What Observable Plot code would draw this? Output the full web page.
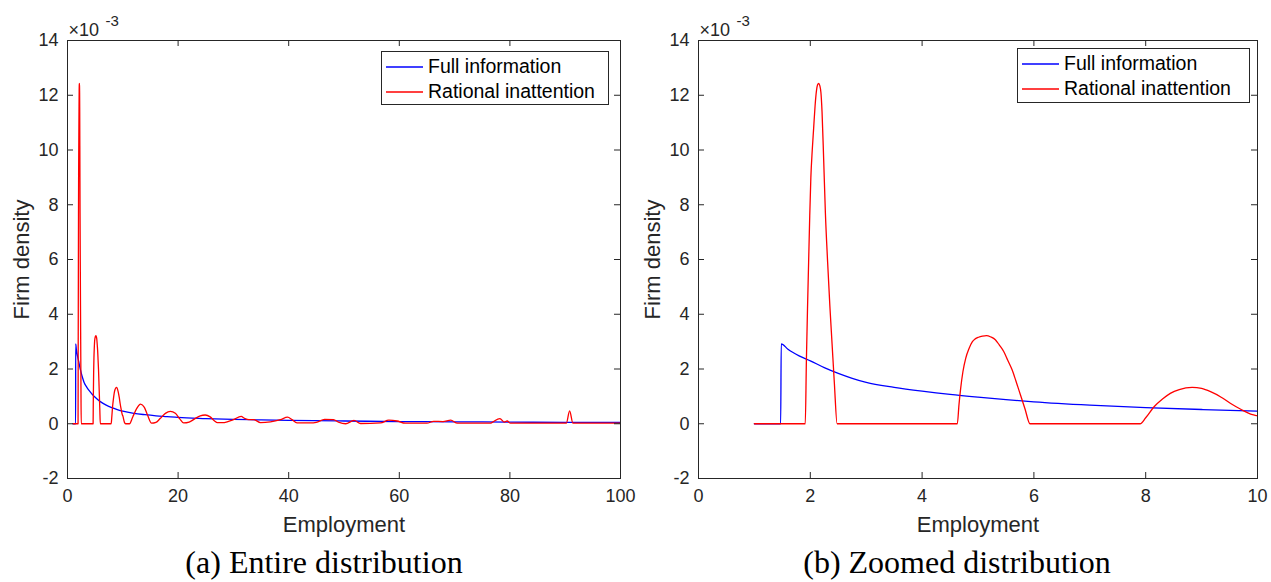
<!DOCTYPE html>
<html><head><meta charset="utf-8">
<script src="https://cdn.jsdelivr.net/npm/d3@7"></script>
<script src="https://cdn.jsdelivr.net/npm/@observablehq/plot@0.6"></script>
<style>
body{margin:0;background:#fff;width:1271px;height:582px;position:relative;overflow:hidden;font-family:"Liberation Sans",Arial,sans-serif;color:#262626}
.panel{position:absolute;top:0}
.legend{position:absolute;background:#fff;border:1px solid #262626;box-sizing:border-box;font-size:19.5px;color:#000;padding-top:2px}
.legend .row{display:flex;align-items:center;height:25px}
.legend svg{margin:0 5px 0 4px;display:block}
.caption{position:absolute;font-family:"Liberation Serif","DejaVu Serif",serif;font-size:32px;color:#000;white-space:nowrap;transform:translateX(-50%)}
</style></head><body>
<script>
// ---------- data (density in units of 10^-3) ----------
const fullInfoEmployment = [1, 1.47, 1.48, 1.6, 1.8, 2, 2.25, 2.5, 2.75, 3, 3.5, 4, 4.5, 5, 5.5, 6, 7, 8, 9, 10, 12, 14, 16, 18, 20, 25, 30, 35, 40, 50, 60, 70, 80, 90, 100];
const fullInfoDensity    = [0, 0, 2.92, 2.72, 2.48, 2.30, 2.05, 1.84, 1.66, 1.51, 1.33, 1.19, 1.07, 0.97, 0.88, 0.80, 0.68, 0.59, 0.52, 0.46, 0.38, 0.33, 0.29, 0.26, 0.23, 0.19, 0.16, 0.14, 0.12, 0.1, 0.08, 0.07, 0.06, 0.05, 0.05];

const inattentionEmployment = [1, 1.91, 1.93, 1.95, 1.97, 1.99, 2.01, 2.035, 2.06, 2.085, 2.11, 2.13, 2.15, 2.17, 2.19, 2.21, 2.24, 2.27, 2.31, 2.35, 2.39, 2.43, 2.48,
  4.63, 4.66, 4.69, 4.73, 4.78, 4.84, 4.90, 4.95, 5.01, 5.08, 5.15, 5.23, 5.31, 5.38, 5.46, 5.53, 5.61, 5.68, 5.76, 5.84, 5.93,
  7.90, 8.0, 8.15, 8.3, 8.44, 8.6, 8.83, 9.0, 9.16, 9.35, 9.52, 9.7, 9.91, 10.0, 10.3, 10.5,
  11.2, 11.8, 12.5, 13.2, 13.9, 14.5, 15.2,
  16.0, 16.8, 17.7, 18.6, 19.5, 20.3, 21.0,
  22.0, 23.0, 24.0, 24.9, 25.8, 26.6, 27.1,
  28.0, 29.0, 30.0, 31.4, 32.0, 32.8, 33.7, 34.9,
  36.7, 38.5, 39.8, 40.6, 41.5, 43.9, 45.0, 46.5, 48.1, 49.0, 50.3, 51.8, 53.0,
  56.6, 58.1, 59.6, 61.1, 65.0, 66.2, 67.9, 69.3, 70.5,
  76.5, 76.8, 78.2, 79.0, 79.5, 80.1, 90.2, 90.8, 91.4, 100];
const inattentionDensity = [0, 0, 2.3, 4.2, 5.9, 7.6, 9.0, 10.0, 10.8, 11.6, 12.16, 12.38, 12.43, 12.35, 12.1, 11.4, 9.6, 7.7, 5.9, 4.3, 2.9, 1.5, 0,
  0, 0.7, 1.29, 1.9, 2.39, 2.75, 3.0, 3.1, 3.16, 3.2, 3.22, 3.17, 3.07, 2.88, 2.64, 2.33, 1.97, 1.55, 1.05, 0.55, 0,
  0, 0.22, 0.62, 0.9, 1.11, 1.25, 1.33, 1.29, 1.17, 0.97, 0.74, 0.53, 0.33, 0.29, 0.05, 0,
  0, 0.25, 0.55, 0.72, 0.6, 0.3, 0.02,
  0.05, 0.2, 0.38, 0.45, 0.38, 0.18, 0.03,
  0.06, 0.18, 0.29, 0.32, 0.25, 0.1, 0.04,
  0.04, 0.08, 0.15, 0.27, 0.2, 0.15, 0.15, 0.04,
  0.07, 0.15, 0.24, 0.15, 0.03, 0.03, 0.05, 0.16, 0.15, 0.06, 0, 0.12, 0.01,
  0.03, 0.13, 0.1, 0.02, 0.02, 0.09, 0.08, 0.13, 0.02,
  0.02, 0.05, 0.19, 0.06, 0.1, 0.02, 0.02, 0.47, 0.02, 0.02];

const seriesNames  = ["Full information", "Rational inattention"];
const seriesColors = ["#0000ff", "#ff0000"];
const yTicks = [-2, 0, 2, 4, 6, 8, 10, 12, 14];
const xTicksEntire = [0, 20, 40, 60, 80, 100];
const xTicksZoomed = [0, 2, 4, 6, 8, 10];
const captions = ["(a) Entire distribution", "(b) Zoomed distribution"];
const xLabel = "Employment";
const yLabel = "Firm density";

// ---------- build ----------
const fullRows = fullInfoEmployment.map((x, i) => ({x, y: fullInfoDensity[i]}));
const inatRows = inattentionEmployment.map((x, i) => ({x, y: inattentionDensity[i]}));

const W = 640, H = 540, mTop = 40, mBottom = 62;
const TICK = 6;
const AX = "#262626";

function panel({left, xDomain, xTicks, mLeft, mRight, legend, caption, capX}) {
  const pw = W - mLeft - mRight, ph = H - mTop - mBottom;
  const svg = Plot.plot({
    width: W, height: H,
    marginLeft: mLeft, marginRight: mRight, marginTop: mTop, marginBottom: mBottom,
    style: {fontFamily: '"Liberation Sans", Arial, sans-serif', fontSize: "18px", color: AX, background: "transparent", overflow: "visible"},
    x: {domain: xDomain},
    y: {domain: [-2, 14]},
    marks: [
      Plot.line(fullRows, {x: "x", y: "y", stroke: seriesColors[0], strokeWidth: 1.3, curve: "monotone-x", clip: true}),
      Plot.line(inatRows, {x: "x", y: "y", stroke: seriesColors[1], strokeWidth: 1.3, curve: "monotone-x", clip: true}),
      Plot.frame({stroke: AX, strokeWidth: 1}),
      Plot.tickX(xTicks, {x: d => d, stroke: AX, insetTop: ph - TICK}),
      Plot.tickX(xTicks, {x: d => d, stroke: AX, insetBottom: ph - TICK}),
      Plot.tickY(yTicks, {y: d => d, stroke: AX, insetRight: pw - TICK}),
      Plot.tickY(yTicks, {y: d => d, stroke: AX, insetLeft: pw - TICK}),
      Plot.axisX(xTicks, {tickSize: 0, tickPadding: 11, tickFormat: d => String(d), label: xLabel, labelAnchor: "center", labelArrow: "none", labelOffset: 53, fill: AX}),
      Plot.axisY(yTicks, {tickSize: 0, tickPadding: 9, tickFormat: d => String(d), label: yLabel, labelAnchor: "center", labelArrow: "none", labelOffset: 54, fill: AX}),
      Plot.text(["×10"], {frameAnchor: "top-left", text: d => d, textAnchor: "start", lineAnchor: "bottom", dx: 1, dy: -5, fontSize: 18, fill: AX}),
      Plot.text(["-3"], {frameAnchor: "top-left", text: d => d, textAnchor: "start", lineAnchor: "bottom", dx: 38, dy: -15, fontSize: 15, fill: AX})
    ]
  });
  svg.querySelectorAll('[aria-label="x-axis label"] text, [aria-label="y-axis label"] text').forEach(t => {
    t.setAttribute("font-size", "22px");
    t.textContent = t.textContent.replace(/\s*[→↑←↓]\s*/g, "").trim();
  });
  const div = document.createElement("div");
  div.className = "panel";
  div.style.left = left + "px";
  div.appendChild(svg);
  document.body.appendChild(div);

  const lg = document.createElement("div");
  lg.className = "legend";
  Object.assign(lg.style, {left: legend[0] + "px", top: legend[1] + "px", width: legend[2] + "px", height: legend[3] + "px"});
  seriesNames.forEach((name, i) => {
    const r = document.createElement("div");
    r.className = "row";
    r.innerHTML = `<svg width="37" height="4"><line x1="0" x2="37" y1="2" y2="2" stroke="${seriesColors[i]}" stroke-width="1.3"/></svg>`;
    const t = document.createElement("span");
    t.textContent = name;
    r.appendChild(t);
    lg.appendChild(r);
  });
  document.body.appendChild(lg);

  const cap = document.createElement("div");
  cap.className = "caption";
  cap.textContent = caption;
  cap.style.left = capX + "px";
  cap.style.top = "544px";
  document.body.appendChild(cap);
}

panel({left: 0, xDomain: [0, 100], xTicks: xTicksEntire, mLeft: 67, mRight: 20, legend: [381, 51, 228, 54], caption: captions[0], capX: 324});
panel({left: 631, xDomain: [0, 10], xTicks: xTicksZoomed, mLeft: 67, mRight: 14, legend: [1017, 48, 233, 55], caption: captions[1], capX: 957});
</script>
</body></html>
